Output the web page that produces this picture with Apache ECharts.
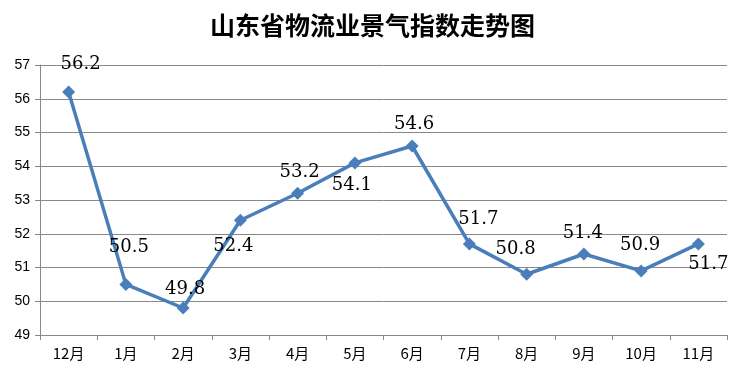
<!DOCTYPE html>
<html>
<head>
<meta charset="utf-8">
<script src="https://cdn.jsdelivr.net/npm/echarts@6/dist/echarts.min.js"></script>
<style>html,body{margin:0;padding:0;background:#fff}#c{width:745px;height:379px}</style>
</head>
<body>
<div id="c"></div>
<script>
const categories = ['12月','1月','2月','3月','4月','5月','6月','7月','8月','9月','10月','11月'];
const values = [56.2, 50.5, 49.8, 52.4, 53.2, 54.1, 54.6, 51.7, 50.8, 51.4, 50.9, 51.7];
const yTicks = [49, 57, 1];
// label offsets (style only)
const labelOffsets = [[12,-28],[3,-37],[2,-19],[-7,26],[2,-21],[-3,22],[2,-22],[9,-25],[-11,-25],[-1,-21],[-1,-26],[10,20]];

const chart = echarts.init(document.getElementById('c'));
chart.setOption({
  animation: false,
  title: {
    text: '山东省物流业景气指数走势图',
    left: 'center', top: 8,
    textStyle: {fontFamily: 'Noto Sans CJK SC', fontSize: 25, fontWeight: 'bold', color: '#000'}
  },
  grid: {left: 40, right: 18, top: 65, bottom: 44},
  xAxis: {
    type: 'category', data: categories, boundaryGap: true,
    axisLine: {lineStyle: {color: '#888', width: 1}},
    axisTick: {show: true, length: 5, lineStyle: {color: '#888'}},
    axisLabel: {margin: 11, color: '#000', fontSize: 15, fontFamily: 'Noto Sans CJK SC'}
  },
  yAxis: {
    type: 'value', min: yTicks[0], max: yTicks[1], interval: yTicks[2],
    axisLine: {show: true, lineStyle: {color: '#888', width: 1}},
    axisTick: {show: true, length: 5, lineStyle: {color: '#888'}},
    splitLine: {lineStyle: {color: '#888', width: 1}},
    axisLabel: {margin: 10, color: '#000', fontSize: 14, fontFamily: 'Liberation Sans'}
  },
  series: [{
    type: 'line',
    data: values.map((v, i) => ({
      value: v,
      label: {offset: labelOffsets[i]}
    })),
    lineStyle: {color: '#4A7EBB', width: 3.5},
    itemStyle: {color: '#4A7EBB'},
    symbol: 'diamond', symbolSize: 13,
    label: {
      show: true, position: 'inside', align: 'center', verticalAlign: 'middle',
      fontFamily: 'DejaVu Serif', fontSize: 18, color: '#000'
    }
  }]
});
</script>
</body>
</html>
